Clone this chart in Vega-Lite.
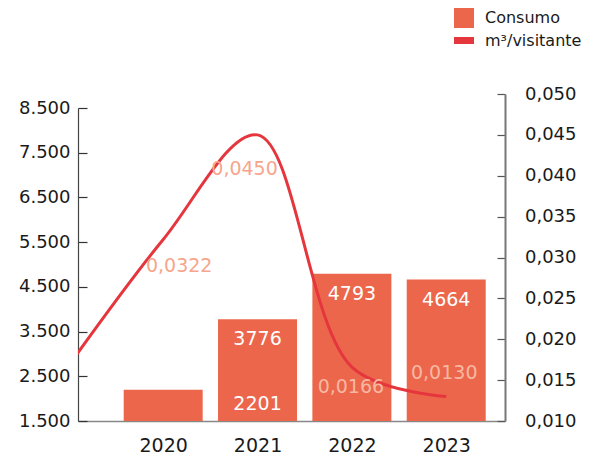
{
  "$schema": "https://vega.github.io/schema/vega-lite/v6.json",
  "width": 427,
  "height": 327,
  "autosize": {"type": "none"},
  "padding": {"left": 78, "top": 94, "right": 90, "bottom": 37},
  "background": "white",
  "config": {
    "locale": {"number": {"decimal": ",", "thousands": ".", "grouping": [3], "currency": ["", " €"]}},
    "view": {"stroke": null},
    "font": "DejaVu Sans",
    "axis": {"labelFont": "DejaVu Sans", "labelColor": "#1a1a1a", "grid": false, "title": null}
  },
  "datasets": {
    "bars": [
      {"year": 2020, "consumo": 2201},
      {"year": 2021, "consumo": 3776},
      {"year": 2022, "consumo": 4793},
      {"year": 2023, "consumo": 4664}
    ],
    "ratio": [
      {"year": 2019, "m3": 0.0168},
      {"year": 2020, "m3": 0.0322},
      {"year": 2021, "m3": 0.0450},
      {"year": 2022, "m3": 0.0166},
      {"year": 2023, "m3": 0.0130}
    ]
  },
  "layer": [
    {
      "data": {"name": "bars"},
      "layer": [
        {
          "mark": {"type": "bar", "size": 79},
          "encoding": {
            "x": {"field": "year", "type": "quantitative",
              "scale": {"domain": [2019.15, 2023.57], "nice": false, "zero": false},
              "axis": {"values": [2020, 2021, 2022, 2023], "format": "d", "ticks": false, "domainColor": "#888888", "domainWidth": 1.5, "labelFontSize": 19, "labelPadding": 15}},
            "y": {"field": "consumo", "type": "quantitative",
              "scale": {"domain": [1500, 8500], "range": [327, 14], "nice": false, "zero": false},
              "axis": {"orient": "left", "values": [1500, 2500, 3500, 4500, 5500, 6500, 7500, 8500], "format": ",d", "tickSize": -9, "tickColor": "#333333", "domainColor": "#444444", "domainWidth": 1.2, "tickWidth": 1.2, "labelFontSize": 18, "labelPadding": 17}},
            "y2": {"datum": 1500},
            "color": {"datum": "Consumo", "type": "nominal",
              "scale": {"domain": ["Consumo", "m³/visitante"], "range": ["#EC664B", "#E5363D"]},
              "legend": {
                "orient": "none", "legendX": 376, "legendY": -86, "title": null,
                "symbolSize": 400, "labelFontSize": 16, "labelFont": "DejaVu Sans", "labelColor": "#1a1a1a", "labelOffset": 11, "rowPadding": 2.5,
                "encode": {"symbols": {"update": {
                  "shape": {"signal": "datum.value === 'Consumo' ? 'square' : 'M-1,-0.35H1V0.35H-1Z'"},
                  "fill": {"scale": "color", "field": "value"},
                  "stroke": {"value": "transparent"},
                  "strokeWidth": {"value": 0}
                }}}
              }}
          }
        },
        {
          "transform": [{"filter": "datum.year > 2020"}],
          "mark": {"type": "text", "color": "white", "fontSize": 19, "dy": 20, "baseline": "middle"},
          "encoding": {
            "x": {"field": "year", "type": "quantitative"},
            "y": {"field": "consumo", "type": "quantitative"},
            "text": {"field": "consumo", "type": "quantitative", "format": "d"}
          }
        },
        {
          "transform": [{"filter": "datum.year == 2020"}],
          "mark": {"type": "text", "color": "white", "fontSize": 19, "dy": -17, "baseline": "middle"},
          "encoding": {
            "x": {"datum": 2021, "type": "quantitative"},
            "y": {"datum": 1500, "type": "quantitative"},
            "text": {"field": "consumo", "type": "quantitative", "format": "d"}
          }
        }
      ]
    },
    {
      "data": {"name": "ratio"},
      "layer": [
        {
          "mark": {"type": "line", "interpolate": "catmull-rom", "strokeWidth": 3, "clip": true},
          "encoding": {
            "x": {"field": "year", "type": "quantitative"},
            "y": {"field": "m3", "type": "quantitative",
              "scale": {"domain": [0.01, 0.05], "nice": false, "zero": false},
              "axis": {"orient": "right", "values": [0.01, 0.015, 0.02, 0.025, 0.03, 0.035, 0.04, 0.045, 0.05], "format": ".3f", "tickSize": -8, "tickColor": "#555555", "domainColor": "#777777", "domainWidth": 2, "tickWidth": 1.2, "labelFontSize": 18, "labelAlign": "right", "labelPadding": 79}},
            "color": {"datum": "m³/visitante", "type": "nominal"}
          }
        },
        {
          "transform": [{"filter": "datum.year == 2020"}],
          "mark": {"type": "text", "color": "#F6A68C", "fontSize": 19, "dx": 16, "dy": 26, "baseline": "middle"},
          "encoding": {"x": {"field": "year", "type": "quantitative"}, "y": {"field": "m3", "type": "quantitative"}, "text": {"field": "m3", "type": "quantitative", "format": ".4f"}}
        },
        {
          "transform": [{"filter": "datum.year == 2021"}],
          "mark": {"type": "text", "color": "#F6A68C", "fontSize": 19, "dx": -13, "dy": 34, "baseline": "middle"},
          "encoding": {"x": {"field": "year", "type": "quantitative"}, "y": {"field": "m3", "type": "quantitative"}, "text": {"field": "m3", "type": "quantitative", "format": ".4f"}}
        },
        {
          "transform": [{"filter": "datum.year == 2022"}],
          "mark": {"type": "text", "color": "#F6B8A2", "fontSize": 19, "dx": -1, "dy": 20, "baseline": "middle"},
          "encoding": {"x": {"field": "year", "type": "quantitative"}, "y": {"field": "m3", "type": "quantitative"}, "text": {"field": "m3", "type": "quantitative", "format": ".4f"}}
        },
        {
          "transform": [{"filter": "datum.year == 2023"}],
          "mark": {"type": "text", "color": "#F6B8A2", "fontSize": 19, "dx": -2, "dy": -23, "baseline": "middle"},
          "encoding": {"x": {"field": "year", "type": "quantitative"}, "y": {"field": "m3", "type": "quantitative"}, "text": {"field": "m3", "type": "quantitative", "format": ".4f"}}
        }
      ]
    }
  ],
  "resolve": {"scale": {"y": "independent"}}
}
